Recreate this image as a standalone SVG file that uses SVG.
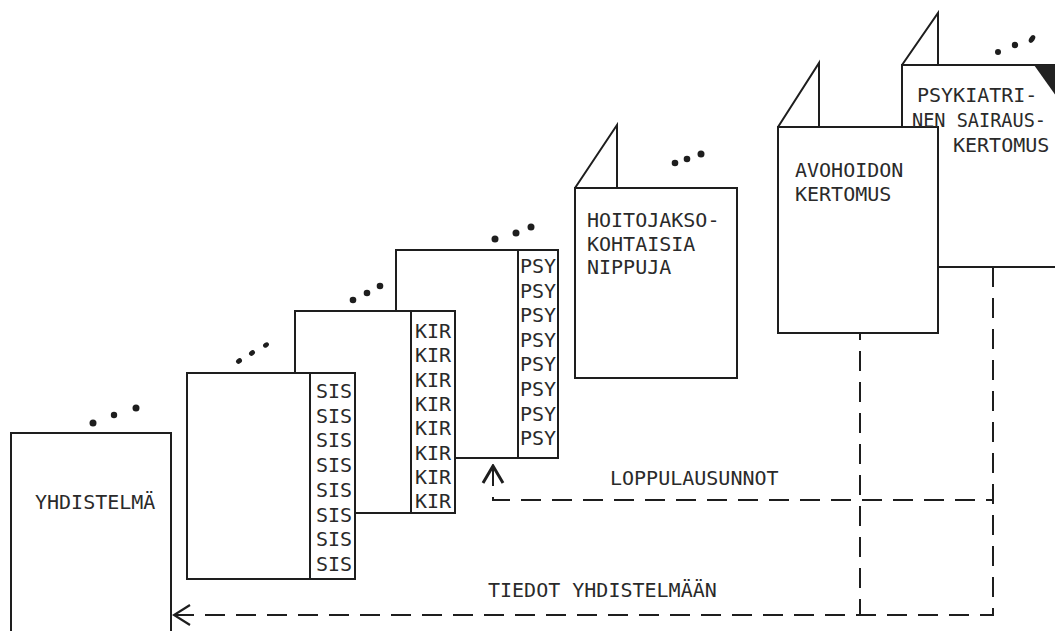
<svg xmlns="http://www.w3.org/2000/svg" width="1055" height="631" viewBox="0 0 1055 631">
<style>
.box{fill:#fff;stroke:#1e1e1e;stroke-width:2}
.ln{fill:none;stroke:#1e1e1e;stroke-width:2}
.t{font-family:"DejaVu Sans Mono","Liberation Mono",monospace;font-size:20px;fill:#2a2a2a}
.dot{fill:#1e1e1e}
.dash{fill:none;stroke:#1e1e1e;stroke-width:2;stroke-dasharray:20 11}
</style>
<defs>
<marker id="open" viewBox="-18 -12 20 24" markerWidth="20" markerHeight="24" refX="0" refY="0" markerUnits="userSpaceOnUse" orient="auto-start-reverse">
<path d="M-16,-10 L0,0 L-16,10" fill="none" stroke="#1e1e1e" stroke-width="2.2"/>
</marker>
<marker id="bold" viewBox="-18 -12 20 24" markerWidth="20" markerHeight="24" refX="0" refY="0" markerUnits="userSpaceOnUse" orient="auto-start-reverse">
<path d="M-17,-10 L0,0 L-17,10" fill="none" stroke="#1e1e1e" stroke-width="3"/>
</marker>
</defs>
<rect width="1055" height="631" fill="#fff"/>

<g id="yhdistelma">
<rect class="box" x="11" y="433" width="160" height="210"/>
<circle class="dot" cx="93" cy="423" r="3.5"/><circle class="dot" cx="114" cy="415" r="3.2"/><circle class="dot" cx="136" cy="408" r="3.5"/>
<text class="t" x="35" y="509">YHDISTELMÄ</text>
</g>

<g id="psy">
<rect class="box" x="396" y="250" width="162" height="208"/>
<line class="ln" x1="518" y1="250" x2="518" y2="458"/>
<circle class="dot" cx="495" cy="239" r="3.5"/><circle class="dot" cx="516" cy="233" r="3.5"/><circle class="dot" cx="531" cy="227" r="3.5"/>
<text class="t" x="520" y="273">PSY<tspan x="520" dy="24.6">PSY</tspan><tspan x="520" dy="24.6">PSY</tspan><tspan x="520" dy="24.6">PSY</tspan><tspan x="520" dy="24.6">PSY</tspan><tspan x="520" dy="24.6">PSY</tspan><tspan x="520" dy="24.6">PSY</tspan><tspan x="520" dy="24.6">PSY</tspan></text>
</g>

<g id="kir">
<rect class="box" x="295" y="311" width="160" height="202"/>
<line class="ln" x1="411" y1="311" x2="411" y2="513"/>
<circle class="dot" cx="353" cy="300" r="3.3"/><circle class="dot" cx="367" cy="293" r="3.3"/><circle class="dot" cx="380" cy="286" r="3.3"/>
<text class="t" x="415" y="338">KIR<tspan x="415" dy="24.3">KIR</tspan><tspan x="415" dy="24.3">KIR</tspan><tspan x="415" dy="24.3">KIR</tspan><tspan x="415" dy="24.3">KIR</tspan><tspan x="415" dy="24.3">KIR</tspan><tspan x="415" dy="24.3">KIR</tspan><tspan x="415" dy="24.3">KIR</tspan></text>
</g>

<g id="sis">
<rect class="box" x="187" y="373" width="168" height="206"/>
<line class="ln" x1="310" y1="373" x2="310" y2="579"/>
<ellipse class="dot" cx="239" cy="361" rx="3.2" ry="2.5" transform="rotate(-35 239 361)"/><ellipse class="dot" cx="252" cy="353" rx="3.2" ry="2.5" transform="rotate(-35 252 353)"/><ellipse class="dot" cx="266" cy="345" rx="3.2" ry="2.3" transform="rotate(-35 266 345)"/>
<text class="t" x="316" y="398">SIS<tspan x="316" dy="24.7">SIS</tspan><tspan x="316" dy="24.7">SIS</tspan><tspan x="316" dy="24.7">SIS</tspan><tspan x="316" dy="24.7">SIS</tspan><tspan x="316" dy="24.7">SIS</tspan><tspan x="316" dy="24.7">SIS</tspan><tspan x="316" dy="24.7">SIS</tspan></text>
</g>

<g id="hoitojakso">
<path class="ln" d="M575,188 L617,125 L617,188"/>
<rect class="box" x="575" y="188" width="162" height="190"/>
<circle class="dot" cx="675" cy="163" r="3.3"/><circle class="dot" cx="687" cy="159" r="3.3"/><circle class="dot" cx="701" cy="154" r="3.5"/>
<text class="t" x="587" y="227">HOITOJAKSO-<tspan x="587" dy="23.5">KOHTAISIA</tspan><tspan x="587" dy="23.5">NIPPUJA</tspan></text>
</g>

<g id="psykiatrinen">
<path class="ln" d="M902,65 L938,13 L938,65"/>
<rect class="box" x="902" y="65" width="160" height="202"/>
<polygon points="1034,65 1056,65 1056,96" fill="#222"/>
<circle class="dot" cx="998" cy="52" r="3"/><circle class="dot" cx="1015" cy="45" r="3.2"/><ellipse class="dot" cx="1032" cy="39" rx="4.2" ry="2.6" transform="rotate(-55 1032 39)"/>
</g>

<g id="avohoidon">
<path class="ln" d="M778,127 L819,63 L819,127"/>
<rect class="box" x="778" y="127" width="160" height="206"/>
<text class="t" x="795" y="177">AVOHOIDON<tspan x="795" dy="23.5">KERTOMUS</tspan></text>
</g>

<g id="psykiatrinen-label">
<text class="t" x="917" y="102">PSYKIATRI-</text>
<text class="t" x="912" y="127" textLength="134" lengthAdjust="spacingAndGlyphs">NEN SAIRAUS-</text>
<text class="t" x="953" y="151.5">KERTOMUS</text>
</g>

<g id="connectors">
<path class="dash" d="M993,267 V615 H860"/>
<path class="dash" d="M174,615 H860 V333" marker-start="url(#open)"/>
<path class="dash" d="M493,466 V500 H993" marker-start="url(#bold)"/>
<text class="t" x="610" y="485">LOPPULAUSUNNOT</text>
<text class="t" x="488" y="597">TIEDOT YHDISTELMÄÄN</text>
</g>
</svg>
